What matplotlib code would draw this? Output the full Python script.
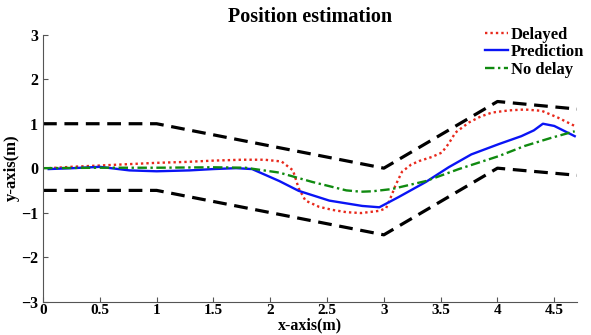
import matplotlib

matplotlib.use("Agg")

import matplotlib.pyplot as plt

# corridor boundaries
x_bound = [0.0, 1.0, 3.0, 4.0, 4.7]
y_upper = [1.0, 1.0, 0.0, 1.5, 1.33]
y_lower = [-0.5, -0.5, -1.5, 0.0, -0.16]

# delayed estimate
x_delayed = [0.05, 0.25, 0.5, 0.75, 1.0, 1.25, 1.5, 1.75, 1.95, 2.1, 2.2, 2.25, 2.31, 2.43, 2.55,
             2.67, 2.8, 2.96, 3.02, 3.07, 3.1, 3.16, 3.24, 3.31, 3.42, 3.51, 3.57, 3.63, 3.75,
             3.85, 3.95, 4.1, 4.24, 4.39, 4.53, 4.68]
y_delayed = [0.0, 0.03, 0.06, 0.09, 0.12, 0.14, 0.17, 0.19, 0.19, 0.15, -0.05, -0.45, -0.73, -0.87, -0.94,
             -0.99, -1.01, -0.96, -0.9, -0.6, -0.4, -0.08, 0.08, 0.16, 0.25, 0.35, 0.55, 0.8, 1.03,
             1.16, 1.25, 1.3, 1.32, 1.29, 1.14, 0.95]

# predicted estimate
x_pred = [0.05, 0.26, 0.5, 0.76, 1.0, 1.29, 1.5, 1.7, 1.84, 2.08, 2.25, 2.52, 2.81, 2.96, 3.13,
          3.37, 3.57, 3.77, 4.01, 4.21, 4.32, 4.4, 4.5, 4.68]
y_pred = [-0.02, 0.0, 0.03, -0.05, -0.07, -0.05, -0.02, 0.0, -0.02, -0.29, -0.51, -0.73, -0.85, -0.88, -0.65,
          -0.31, 0.02, 0.31, 0.54, 0.72, 0.85, 1.0, 0.95, 0.72]

# estimate without delay
x_nodelay = [0.0, 0.5, 1.0, 1.5, 1.78, 2.08, 2.37, 2.67, 2.8, 2.9, 3.07, 3.37, 3.66, 4.01, 4.24, 4.47, 4.68]
y_nodelay = [0.0, 0.01, 0.01, 0.02, 0.01, -0.1, -0.31, -0.5, -0.53, -0.52, -0.47, -0.29, -0.02, 0.27, 0.5, 0.68, 0.83]

x_ticks = [0, 0.5, 1, 1.5, 2, 2.5, 3, 3.5, 4, 4.5]
x_tick_labels = ["0", "0.5", "1", "1.5", "2", "2.5", "3", "3.5", "4", "4.5"]
y_ticks = [-3, -2, -1, 0, 1, 2, 3]

plt.rcParams.update({
    "font.family": "Liberation Serif",
    "font.weight": "bold",
    "font.size": 11,
    "axes.spines.top": False,
    "axes.spines.right": False,
    "xtick.direction": "in",
    "ytick.direction": "in",
})

figure = plt.figure(figsize=(5.91, 3.35), dpi=100)
axis = figure.add_axes([0.0728, 0.1, 0.9035, 0.796])

boundary_style = dict(color="black", linewidth=2.3, linestyle=(0, (4.3, 2.4)))
axis.plot(x_bound, y_upper, **boundary_style)
axis.plot(x_bound, y_lower, **boundary_style)

axis.plot(x_delayed, y_delayed, color="#e8291c", linewidth=1.7, linestyle=(0, (1, 1.3)), label="Delayed")
axis.plot(x_pred, y_pred, color="#0a14f5", linewidth=1.7, label="Prediction")
axis.plot(x_nodelay, y_nodelay, color="#108a10", linewidth=1.7, linestyle=(0, (4, 1.5, 1, 1.5)), label="No delay")

axis.set_xlim(0, 4.7)
axis.set_ylim(-3, 3)
axis.set_xticks(x_ticks)
axis.set_xticklabels(x_tick_labels)
axis.set_yticks(y_ticks)
axis.tick_params(length=3.5, width=0.8, color="#555555", labelsize=11.5)
axis.tick_params(axis="x", pad=2, labelsize=11)
for side in ("left", "bottom"):
    axis.spines[side].set_color("#555555")
    axis.spines[side].set_linewidth(0.8)

axis.set_title("Position estimation", fontsize=14.5, fontweight="bold", pad=9)
axis.set_xlabel("x-axis(m)", fontsize=11.5, fontweight="bold", labelpad=0)
axis.set_ylabel("y-axis(m)", fontsize=12, fontweight="bold", labelpad=1)

axis.legend(loc="upper right", bbox_to_anchor=(1.035, 1.075), frameon=False, fontsize=12,
            handlelength=1.4, handletextpad=0.15, labelspacing=0.1, borderpad=0.2)

figure.savefig("out.png", dpi=100)
